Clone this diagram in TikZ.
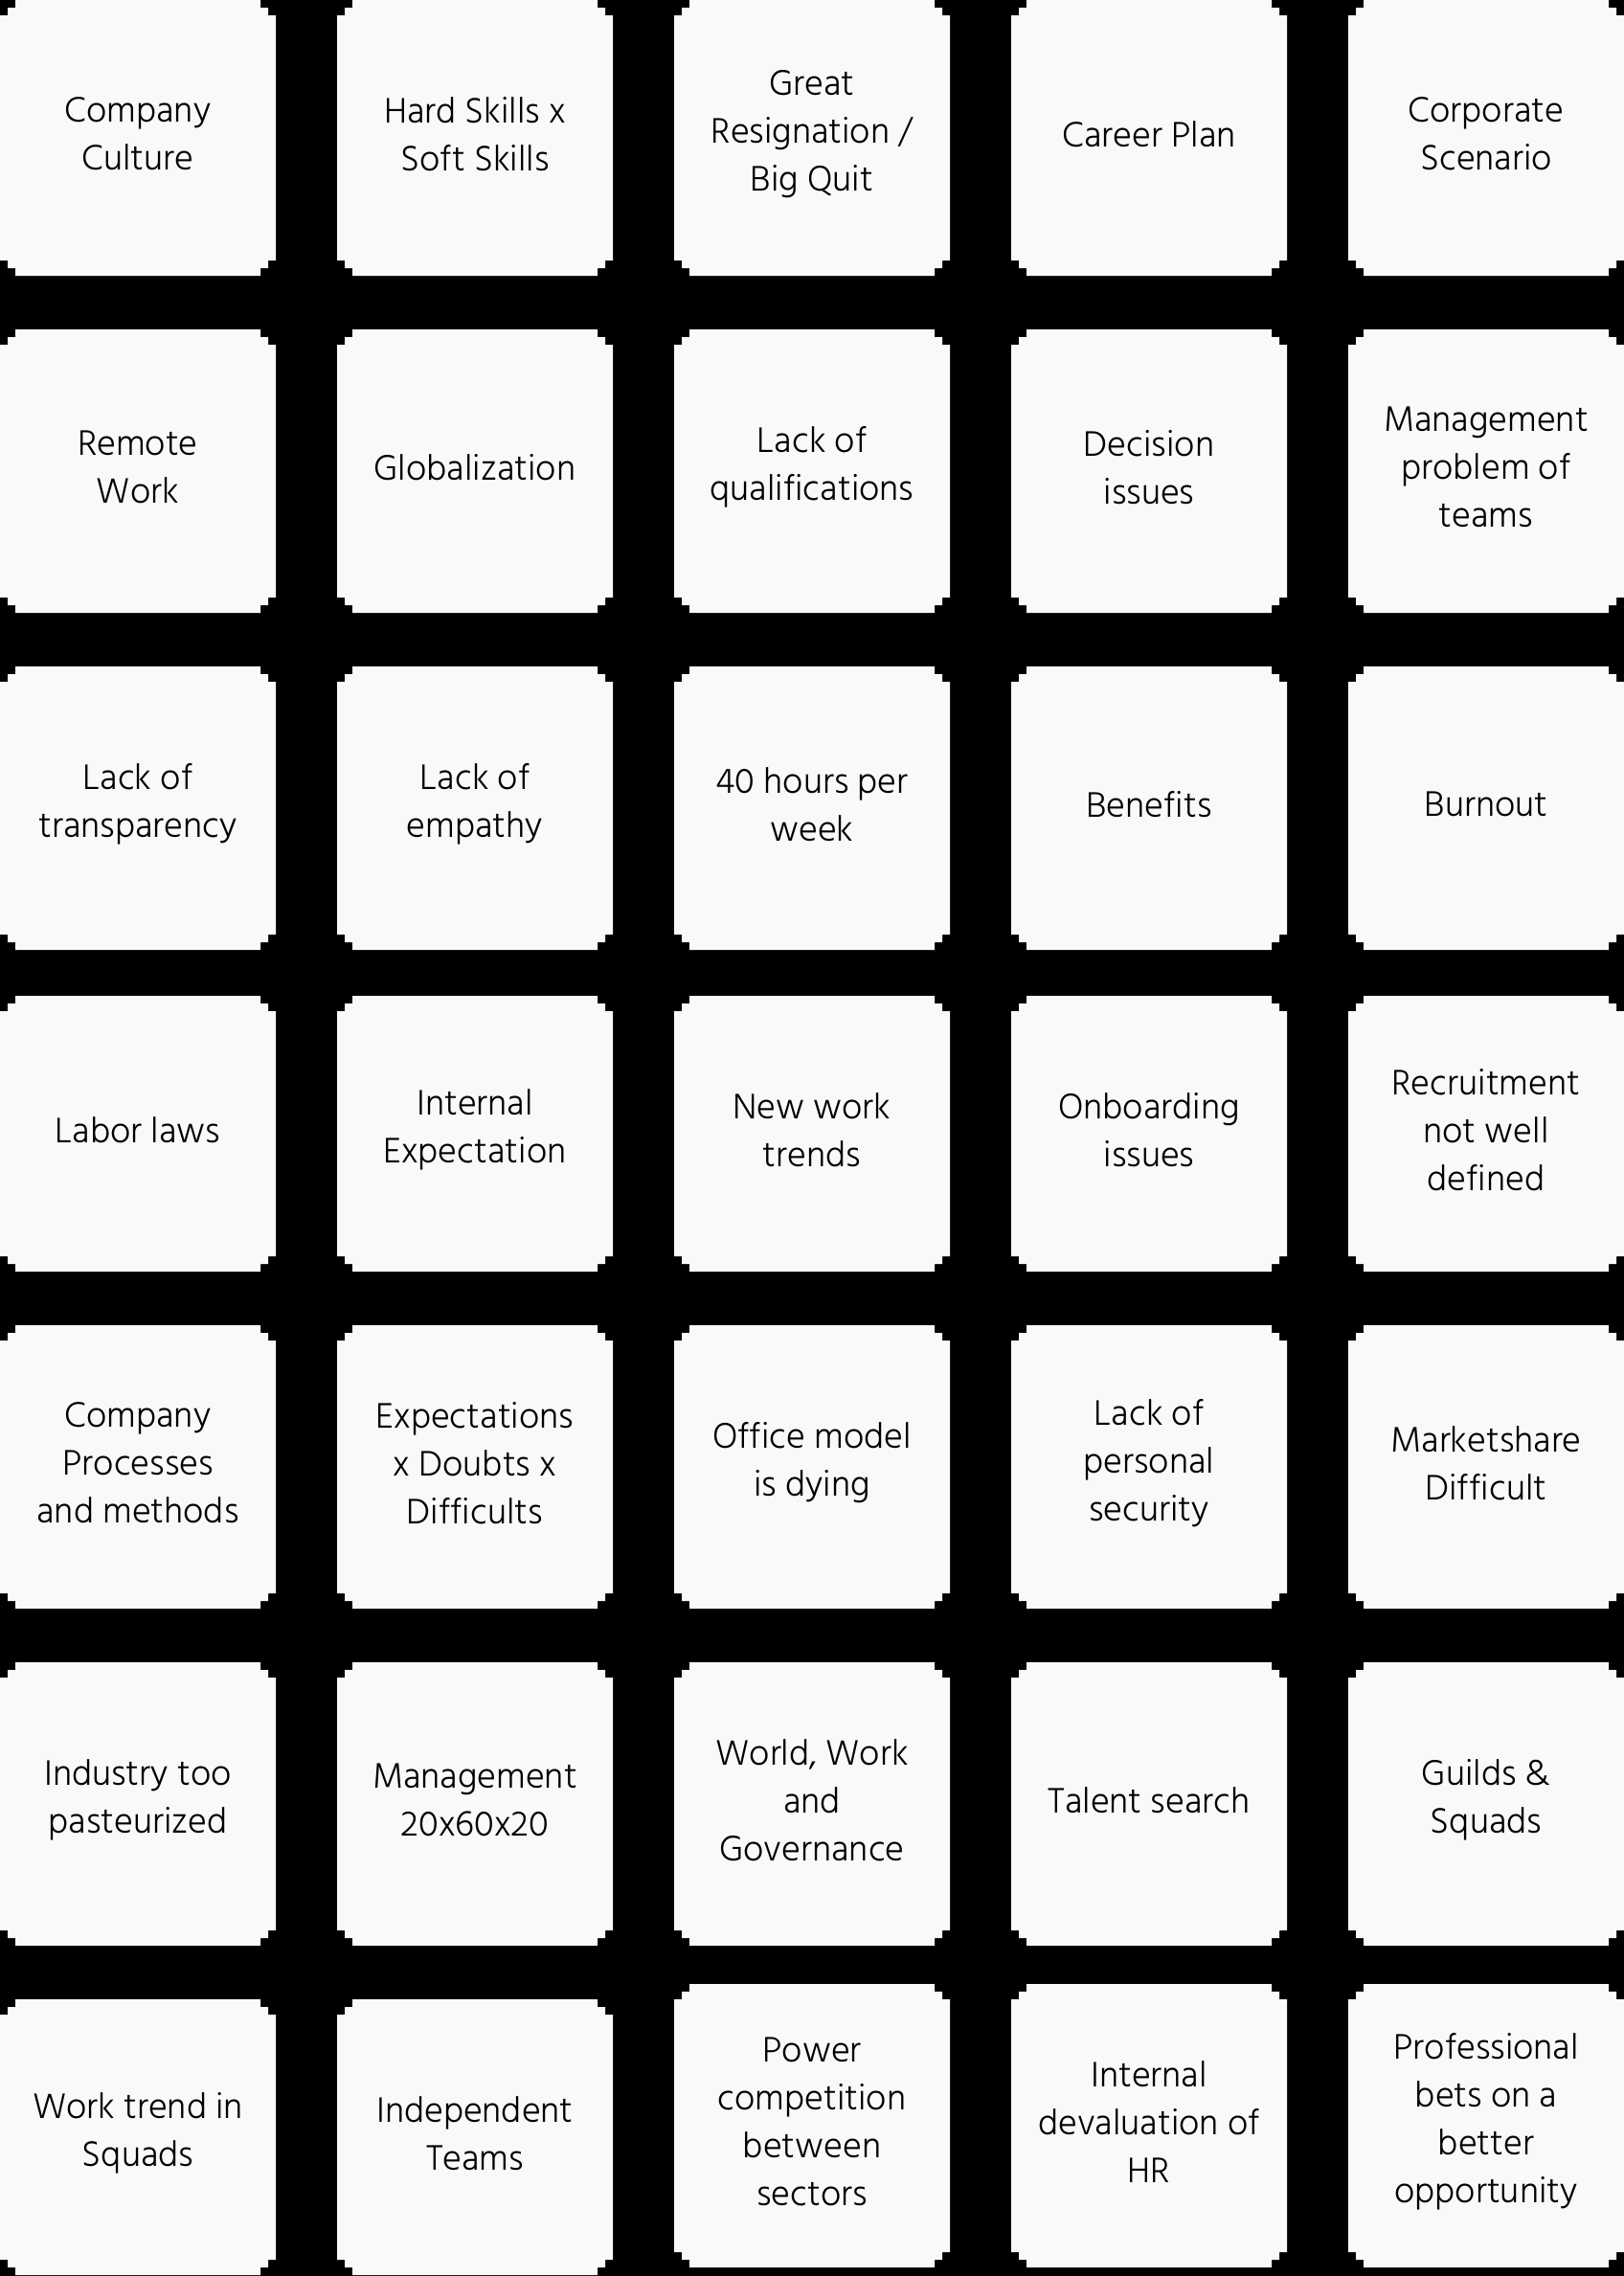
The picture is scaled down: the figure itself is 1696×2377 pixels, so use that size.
\documentclass[tikz,border=0pt]{standalone}
\usepackage{fontspec}
\setmainfont{Hind Madurai}[UprightFont=* Light]
\usepackage{tikz}

\definecolor{tilegray}{HTML}{F9F9F9}

% one card with stepped corners: x0, y0, x1, y1 (pixels, y down)
\newcommand{\cardtile}[4]{%
  \fill[tilegray] (#1+16,#2) -- (#3-16,#2) -- (#3-16,#2+8) -- (#3-8,#2+8)
    -- (#3-8,#2+16) -- (#3,#2+16) -- (#3,#4-16) -- (#3-8,#4-16)
    -- (#3-8,#4-8) -- (#3-16,#4-8) -- (#3-16,#4) -- (#1+16,#4)
    -- (#1+16,#4-8) -- (#1+8,#4-8) -- (#1+8,#4-16) -- (#1,#4-16)
    -- (#1,#2+16) -- (#1+8,#2+16) -- (#1+8,#2+8) -- (#1+16,#2+8) -- cycle;}

\tikzset{cardtext/.style={align=center, text=black, yshift=2pt,
    font=\fontsize{19}{25}\selectfont}}

\begin{document}
\begin{tikzpicture}[x=0.5pt, y=-0.5pt]

  % black background
  \fill[black] (0,0) rectangle (1696,2377);
  \useasboundingbox (0,0) rectangle (1696,2377);

  % cards, rows 1 to 6
  \foreach \top/\bot in {0/288, 344/640, 696/992, 1040/1328, 1384/1680, 1736/2032}
    \foreach \x in {0,352,704,1056,1408}
      \cardtile{\x}{\top}{\x+288}{\bot};
  % cards, last row
  \foreach \x in {0,352}
    \cardtile{\x}{2088}{\x+288}{2376};
  \foreach \x in {704,1056,1408}
    \cardtile{\x}{2072}{\x+288}{2368};

  % row 1
  \node[cardtext] (culture)     at (144,144)  {Company\\Culture};
  \node[cardtext] (skills)      at (496,144)  {Hard Skills x\\Soft Skills};
  \node[cardtext] (resignation) at (848,144)  {Great\\Resignation /\\Big Quit};
  \node[cardtext] (career)      at (1200,144) {Career Plan};
  \node[cardtext] (scenario)    at (1552,144) {Corporate\\Scenario};

  % row 2
  \node[cardtext] (remote)      at (144,492)  {Remote\\Work};
  \node[cardtext] (global)      at (496,492)  {Globalization};
  \node[cardtext] (qualif)      at (848,492)  {Lack of\\qualifications};
  \node[cardtext] (decision)    at (1200,492) {Decision\\issues};
  \node[cardtext] (teams)       at (1552,492) {Management\\problem of\\teams};

  % row 3
  \node[cardtext] (transp)      at (144,844)  {Lack of\\transparency};
  \node[cardtext] (empathy)     at (496,844)  {Lack of\\empathy};
  \node[cardtext] (hours)       at (848,844)  {40 hours per\\week};
  \node[cardtext] (benefits)    at (1200,844) {Benefits};
  \node[cardtext] (burnout)     at (1552,844) {Burnout};

  % row 4
  \node[cardtext] (labor)       at (144,1184)  {Labor laws};
  \node[cardtext] (expect)      at (496,1184)  {Internal\\Expectation};
  \node[cardtext] (trends)      at (848,1184)  {New work\\trends};
  \node[cardtext] (onboard)     at (1200,1184) {Onboarding\\issues};
  \node[cardtext] (recruit)     at (1552,1184) {Recruitment\\not well\\defined};

  % row 5
  \node[cardtext] (processes)   at (144,1532)  {Company\\Processes\\and methods};
  \node[cardtext] (doubts)      at (496,1532)  {Expectations\\x Doubts x\\Difficults};
  \node[cardtext] (office)      at (848,1532)  {Office model\\is dying};
  \node[cardtext] (security)    at (1200,1532) {Lack of\\personal\\security};
  \node[cardtext] (market)      at (1552,1532) {Marketshare\\Difficult};

  % row 6
  \node[cardtext] (industry)    at (144,1884)  {Industry too\\pasteurized};
  \node[cardtext] (mgmt)        at (496,1884)  {Management\\20x60x20};
  \node[cardtext] (governance)  at (848,1884)  {World, Work\\and\\Governance};
  \node[cardtext] (talent)      at (1200,1884) {Talent search};
  \node[cardtext] (guilds)      at (1552,1884) {Guilds \&\\Squads};

  % row 7
  \node[cardtext] (squads)      at (144,2232)  {Work trend in\\Squads};
  \node[cardtext] (independent) at (496,2232)  {Independent\\Teams};
  \node[cardtext] (power)       at (848,2220)  {Power\\competition\\between\\sectors};
  \node[cardtext] (hr)          at (1200,2220) {Internal\\devaluation of\\HR};
  \node[cardtext] (bets)        at (1552,2220) {Professional\\bets on a\\better\\opportunity};

\end{tikzpicture}
\end{document}
